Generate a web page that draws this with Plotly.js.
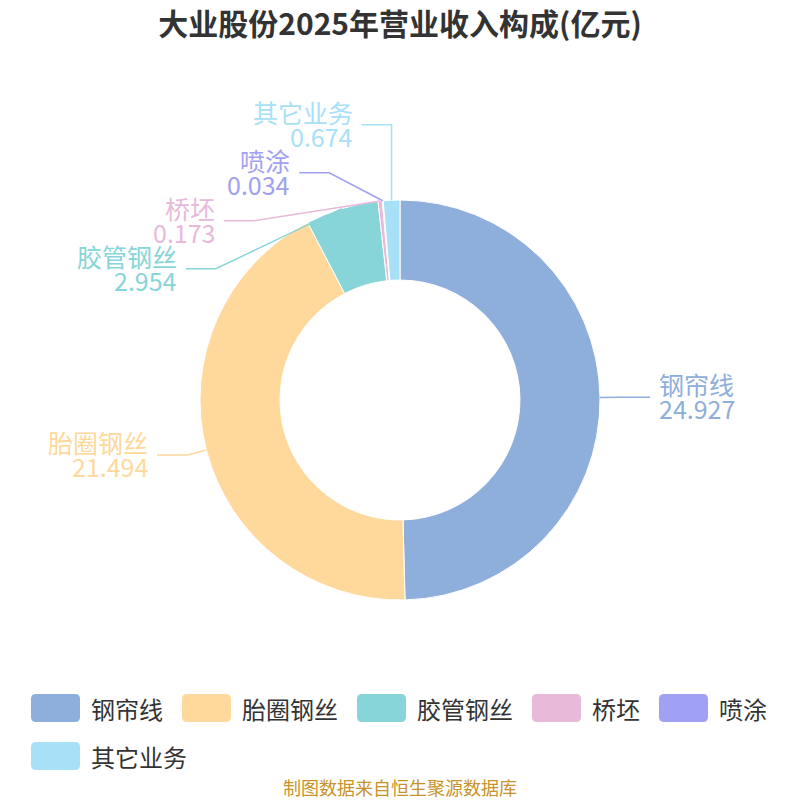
<!DOCTYPE html>
<html>
<head>
<meta charset="utf-8">
<script src="https://cdn.plot.ly/plotly-3.0.1.min.js"></script>
<style>body{margin:0;background:#fff;} #chart{width:800px;height:800px;}</style>
</head>
<body>
<div id="chart"></div>
<script>
var labels = ['钢帘线', '胎圈钢丝', '胶管钢丝', '桥坯', '喷涂', '其它业务'];
var values = [24.927, 21.494, 2.954, 0.173, 0.034, 0.674];
var colors = ['#8eaedb', '#fed99b', '#87d5d8', '#e8b9d9', '#a0a0f5', '#a8e0f8'];

var W = 800, H = 800;
var dom = {x: [0.25, 0.75], y: [0.25, 0.75]};
var FONT = 'Noto Sans CJK SC';

// pie geometry, same as what plotly uses for this domain
var cx = W * (dom.x[0] + dom.x[1]) / 2;
var cy = H * (1 - (dom.y[0] + dom.y[1]) / 2);
var R = Math.min(W * (dom.x[1] - dom.x[0]), H * (dom.y[1] - dom.y[0])) / 2;

var len1 = 20, len2 = 30, gap = 7, lblH = 48, ellB = 240;

function px(x) { return x / W; }
function py(y) { return 1 - y / H; }

var total = values.reduce(function(a, b) { return a + b; }, 0);
var items = [];
var acc = 0;
values.forEach(function(v, i) {
  var mid = (acc + v / 2) / total * 2 * Math.PI;
  acc += v;
  var s = Math.sin(mid), c = Math.cos(mid);
  items.push({
    i: i,
    ax: cx + R * s, ay: cy - R * c,
    ex: cx + (R + len1) * s, ey: cy - (R + len1) * c,
    y: cy - (R + len1) * c,
    dir: s < 0 ? -1 : 1,
    moved: false
  });
});

// push overlapping labels apart on each side
[-1, 1].forEach(function(dir) {
  var side = items.filter(function(d) { return d.dir === dir; });
  side.sort(function(a, b) { return a.y - b.y; });
  var clusters = [], cur = [side[0]], totalShift = 0;
  for (var k = 1; k < side.length; k++) {
    var need = side[k - 1].y + lblH;
    if (side[k].y < need) {
      totalShift += need - side[k].y;
      side[k].y = need;
      cur.push(side[k]);
    } else {
      clusters.push(cur);
      cur = [side[k]];
    }
  }
  clusters.push(cur);
  clusters.forEach(function(cl) {
    if (cl.length < 2) return;
    var back = totalShift / side.length;
    cl.forEach(function(d) {
      d.y -= back;
      d.moved = true;
    });
  });
});

var shapes = [], annotations = [];
items.forEach(function(d) {
  if (d.moved) {
    var dy = Math.abs(d.y - cy);
    var dx = dy < ellB ? (R + len1) * Math.sqrt(1 - (dy / ellB) * (dy / ellB)) : 0;
    dx = Math.max(dx, Math.abs(d.ax - cx));
    d.ex = cx + d.dir * dx;
    d.ey = d.y;
  }
  var endX = d.ex + d.dir * len2;
  shapes.push({
    type: 'path', xref: 'paper', yref: 'paper',
    path: 'M' + px(d.ax) + ',' + py(d.ay) + ' L' + px(d.ex) + ',' + py(d.ey) + ' L' + px(endX) + ',' + py(d.ey),
    line: {color: colors[d.i], width: 1.5}
  });
  var tx = px(endX + d.dir * gap);
  var anchor = d.dir > 0 ? 'left' : 'right';
  annotations.push({
    xref: 'paper', yref: 'paper', x: tx, y: py(d.ey - 13),
    xanchor: anchor, yanchor: 'middle', showarrow: false,
    text: labels[d.i], font: {family: FONT, size: 25, color: colors[d.i]}
  });
  annotations.push({
    xref: 'paper', yref: 'paper', x: tx, y: py(d.ey + 11),
    xanchor: anchor, yanchor: 'middle', showarrow: false,
    text: String(values[d.i]), font: {family: FONT, size: 25, color: colors[d.i]}
  });
});

// legend drawn by hand: big rounded swatches, wrapping rows
var ctx = document.createElement('canvas').getContext('2d');
ctx.font = '24px "' + FONT + '"';
var lgX = 31, lgY = 708, swW = 49, swH = 28, rad = 5;
labels.forEach(function(name, i) {
  var tw = ctx.measureText(name).width;
  if (lgX + swW + 10 + tw > W - 20) { lgX = 31; lgY += 48; }
  var x0 = lgX, x1 = lgX + swW, y0 = lgY - swH / 2, y1 = lgY + swH / 2;
  var p = 'M' + px(x0 + rad) + ',' + py(y0) +
    ' L' + px(x1 - rad) + ',' + py(y0) + ' Q' + px(x1) + ',' + py(y0) + ' ' + px(x1) + ',' + py(y0 + rad) +
    ' L' + px(x1) + ',' + py(y1 - rad) + ' Q' + px(x1) + ',' + py(y1) + ' ' + px(x1 - rad) + ',' + py(y1) +
    ' L' + px(x0 + rad) + ',' + py(y1) + ' Q' + px(x0) + ',' + py(y1) + ' ' + px(x0) + ',' + py(y1 - rad) +
    ' L' + px(x0) + ',' + py(y0 + rad) + ' Q' + px(x0) + ',' + py(y0) + ' ' + px(x0 + rad) + ',' + py(y0) + ' Z';
  shapes.push({type: 'path', xref: 'paper', yref: 'paper', path: p,
    fillcolor: colors[i], line: {width: 0}});
  annotations.push({
    xref: 'paper', yref: 'paper', x: px(x1 + 9), y: py(lgY),
    xanchor: 'left', yanchor: 'middle', showarrow: false,
    text: name, font: {family: FONT, size: 24, color: '#333'}
  });
  lgX = x1 + 10 + tw + 20;
});

annotations.push({
  text: '制图数据来自恒生聚源数据库',
  xref: 'paper', yref: 'paper',
  x: 0.5, y: py(787),
  xanchor: 'center', yanchor: 'middle',
  showarrow: false,
  font: {family: FONT, size: 18, color: '#c8922a'}
});

var trace = {
  type: 'pie',
  labels: labels,
  values: values,
  hole: 0.6,
  sort: false,
  direction: 'clockwise',
  rotation: 0,
  marker: {colors: colors, line: {color: '#fff', width: 1}},
  textinfo: 'none',
  hoverinfo: 'label+value+percent',
  domain: dom,
  showlegend: false
};

var layout = {
  width: W,
  height: H,
  margin: {l: 0, r: 0, t: 0, b: 0},
  paper_bgcolor: '#fff',
  font: {family: FONT, color: '#333'},
  title: {
    text: '<b>大业股份2025年营业收入构成(亿元)</b>',
    x: 0.5,
    y: py(24),
    yanchor: 'middle',
    font: {size: 30, color: '#333'}
  },
  showlegend: false,
  shapes: shapes,
  annotations: annotations
};

Plotly.newPlot('chart', [trace], layout, {displayModeBar: false});
</script>
</body>
</html>
